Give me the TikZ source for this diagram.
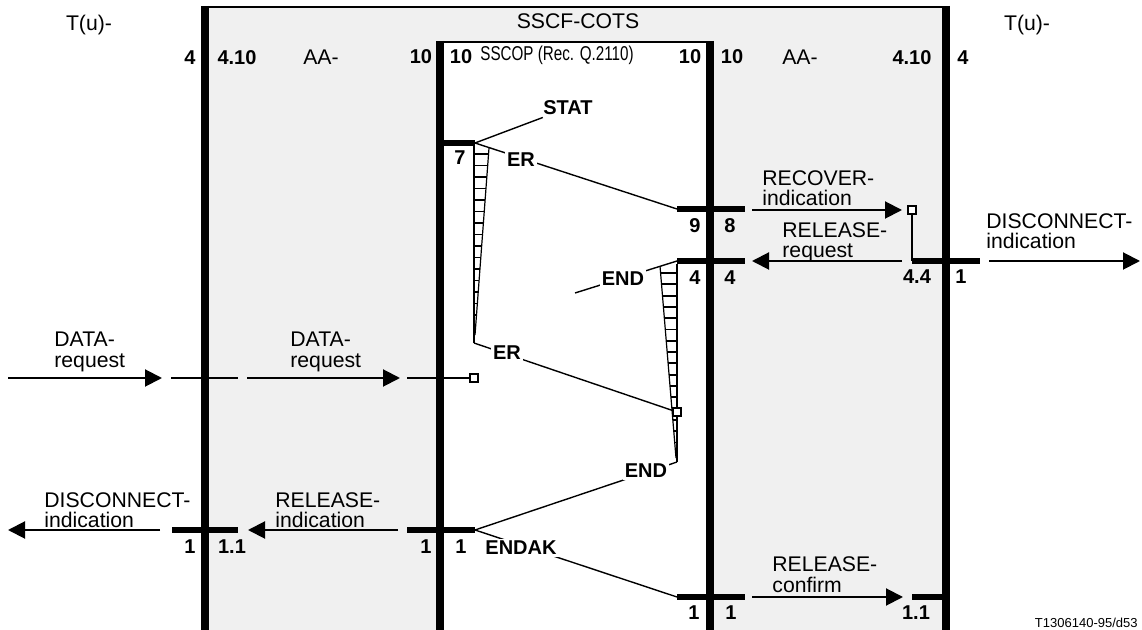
\documentclass[tikz,border=0pt]{standalone}
\usepackage{graphicx}
\usepackage{fontspec}
\setmainfont{Liberation Sans}
\usetikzlibrary{arrows.meta}
\definecolor{panel}{HTML}{F0F0F0}
\begin{document}
\begin{tikzpicture}[x=0.5pt,y=-0.5pt,
  txt/.style={font=\fontsize{10.6}{10.4}\selectfont, inner sep=0pt},
  two/.style={txt, align=left, anchor=north west},
  num/.style={font=\fontsize{10}{10}\selectfont\bfseries, inner sep=0pt},
  msg/.style={font=\fontsize{10}{10}\selectfont\bfseries, inner sep=1pt, fill=white},
  vbar/.style={line width=4pt},
  hbar/.style={line width=3.2pt},
  link/.style={line width=0.7pt},
  sig/.style={line width=1pt},
  arr/.style={line width=1pt, -{Triangle[length=8.5pt,width=8.5pt]}},
  hatch/.style={line width=0.95pt},
  slant/.style={line width=0.6pt},
  sq/.style={draw, fill=white, line width=0.6pt, minimum size=4pt, inner sep=0pt}
]
\useasboundingbox (0,0) rectangle (1142,630);
% panels
\fill[panel] (205,7) rectangle (946,630);
\fill[white] (440,42) rectangle (710,630);
\draw[line width=1.2pt] (201,7) -- (950,7);
\draw[line width=1.2pt] (436,42) -- (714,42);
\draw[vbar] (205,6) -- (205,630);
\draw[vbar] (946,6) -- (946,630);
\draw[vbar] (440,41) -- (440,630);
\draw[vbar] (710,41) -- (710,630);

% header texts
\node[txt] (tuL) at (89,25) {T(u)-};
\node[txt] (tuR) at (1027,25) {T(u)-};
\node[txt] (sscf) at (578,21) {SSCF-COTS};
\node[txt] (aaL) at (321,57) {AA-};
\node[txt] (aaR) at (800,57) {AA-};
\node[txt, font=\fontsize{10}{10}\selectfont] (sscop) at (557,55) {\scalebox{0.76}[1]{SSCOP (Rec. Q.2110)}};
\node[num] (h4L) at (190,58) {4};
\node[num] (h410L) at (237,58) {4.10};
\node[num] (h10a) at (421,57) {10};
\node[num] (h10b) at (461,57) {10};
\node[num] (h10c) at (690,57) {10};
\node[num] (h10d) at (732,57) {10};
\node[num] (h410R) at (912,58) {4.10};
\node[num] (h4R) at (963,58) {4};

% coordinates of bar ends
\coordinate (b7w) at (440,143);
\coordinate (b7e) at (475,143);
\coordinate (b98w) at (677,209);
\coordinate (b98e) at (745,209);
\coordinate (b44w) at (677,261);
\coordinate (b44e) at (745,261);
\coordinate (b44rw) at (912,261);
\coordinate (b44re) at (980,261);
\coordinate (b11Lw) at (172,530);
\coordinate (b11Le) at (238,530);
\coordinate (b11Mw) at (407,530);
\coordinate (b11Me) at (475,530);
\coordinate (b11Rw) at (677,597);
\coordinate (b11Re) at (745,597);
\coordinate (b11RRw) at (912,597);
\coordinate (b11RRe) at (946,597);

% message lines (SSCOP)
\draw[link] (b7e) -- (b98w);
\draw[link] (b44w) -- (575,293) coordinate (endfree);
\coordinate (t1b) at (474,343);
\coordinate (t2b) at (677,462);
\node[sq] (sq2) at (677,412) {};
\draw[link] (t1b) -- (sq2);
\draw[link] (t2b) -- (b11Me);
\draw[link] (b11Me) -- (b11Rw);

% timer triangle 1
\draw[hatch] (474,146) -- (t1b);
\draw[slant] (489,148) -- (475,335);
\foreach \yy in {154,165.5,...,330} {
  \draw[hatch] (474,\yy) -- ({489-14*(\yy-148)/187},\yy);
}
% timer triangle 2
\draw[hatch] (677,264) -- (t2b);
\draw[slant] (660,266) -- (676,458);
\foreach \yy in {273,284.3,...,455} {
  \draw[hatch] ({660+16*(\yy-266)/192},\yy) -- (677,\yy);
}
\node[sq] (sq2b) at (677,412) {};

% message labels
\node[msg] (stat) at (568,108) {STAT};
\draw[link] (b7e) -- (stat);
\node[msg] (er1) at (521,160) {ER};
\node[msg] (er2) at (507,353) {ER};
\node[msg] (end1) at (623,279) {END};
\node[msg] (end2) at (646,471) {END};
\node[msg] (endak) at (521,548) {ENDAK};

% bars
\draw[hbar] (b7w) -- (b7e);
\draw[hbar] (b98w) -- (b98e);
\draw[hbar] (b44w) -- (b44e);
\draw[hbar] (b44rw) -- (b44re);
\draw[hbar] (b11Lw) -- (b11Le);
\draw[hbar] (b11Mw) -- (b11Me);
\draw[hbar] (b11Rw) -- (b11Re);
\draw[hbar] (b11RRw) -- (b11RRe);

% state numbers
\node[num] (n7) at (460,158) {7};
\node[num] (n9) at (695,226) {9};
\node[num] (n8) at (730,226) {8};
\node[num] (n4a) at (695,278) {4};
\node[num] (n4b) at (730,278) {4};
\node[num] (n44) at (917,277) {4.4};
\node[num] (n1r) at (961,277) {1};
\node[num] (n1a) at (190,547) {1};
\node[num] (n11a) at (232,547) {1.1};
\node[num] (n1b) at (426,547) {1};
\node[num] (n1c) at (461,547) {1};
\node[num] (n1d) at (694,613) {1};
\node[num] (n1e) at (731,613) {1};
\node[num] (n11b) at (916,613) {1.1};

% DATA-request
\node[two] (dr1) at (54,332) {DATA-\\request};
\node[two] (dr2) at (290,332) {DATA-\\request};
\coordinate (d1s) at (8,378);
\coordinate (d1e) at (162,378);
\coordinate (d2s) at (171,378);
\coordinate (d2e) at (238,378);
\coordinate (d3s) at (247,378);
\coordinate (d3e) at (400,378);
\coordinate (d4s) at (407,378);
\node[sq] (sq1) at (474,378) {};
\draw[arr] (d1s) -- (d1e);
\draw[sig] (d2s) -- (d2e);
\draw[arr] (d3s) -- (d3e);
\draw[sig] (d4s) -- (sq1);

% RECOVER / RELEASE-request / DISCONNECT right
\node[two] (rec) at (762,170) {RECOVER-\\indication};
\node[sq] (sq3) at (912,210) {};
\coordinate (r1s) at (752,210);
\coordinate (r1e) at (902,210);
\draw[arr] (r1s) -- (r1e);
\draw[hatch] (sq3) -- (b44rw);
\node[two] (relreq) at (782,222) {RELEASE-\\request};
\coordinate (r2s) at (902,261);
\coordinate (r2e) at (752,261);
\draw[arr] (r2s) -- (r2e);
\node[two] (discR) at (986,213) {DISCONNECT-\\indication};
\coordinate (r3s) at (989,261);
\coordinate (r3e) at (1140,261);
\draw[arr] (r3s) -- (r3e);

% bottom left
\node[two] (discL) at (44,492) {DISCONNECT-\\indication};
\coordinate (l1s) at (160,530);
\coordinate (l1e) at (8,530);
\draw[arr] (l1s) -- (l1e);
\node[two] (relind) at (275,492) {RELEASE-\\indication};
\coordinate (l2s) at (398,530);
\coordinate (l2e) at (248,530);
\draw[arr] (l2s) -- (l2e);

% bottom right
\node[two] (relcon) at (772,556) {RELEASE-\\confirm};
\coordinate (c1s) at (752,597);
\coordinate (c1e) at (903,597);
\draw[arr] (c1s) -- (c1e);

\node[font=\fontsize{6.5}{6.5}\selectfont, inner sep=0pt, anchor=east] (fig) at (1138,623) {T1306140-95/d53};
\end{tikzpicture}
\end{document}
